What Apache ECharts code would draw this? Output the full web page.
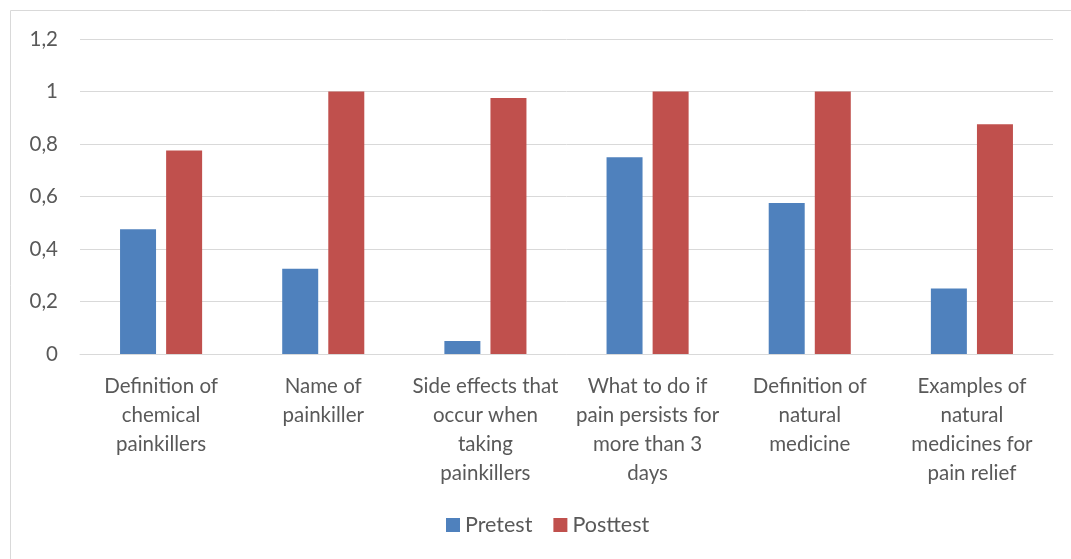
<!DOCTYPE html>
<html>
<head>
<meta charset="utf-8">
<script src="https://cdn.jsdelivr.net/npm/echarts@6/dist/echarts.min.js"></script>
<style>
html,body{margin:0;padding:0;background:#fff;}
#chart{width:1071px;height:559px;}
</style>
</head>
<body>
<div id="chart"></div>
<script>
const categories = [
  "Definition of\nchemical\npainkillers",
  "Name of\npainkiller",
  "Side effects that\noccur when\ntaking\npainkillers",
  "What to do if\npain persists for\nmore than 3\ndays",
  "Definition of\nnatural\nmedicine",
  "Examples of\nnatural\nmedicines for\npain relief"
];
const pretest = [0.475, 0.325, 0.05, 0.75, 0.575, 0.25];
const posttest = [0.775, 1, 0.975, 1, 1, 0.875];
const seriesNames = ["Pretest", "Posttest"];

const font = "Lato, 'Liberation Sans', sans-serif";
const chart = echarts.init(document.getElementById('chart'), null, {renderer: 'canvas'});
chart.setOption({
  animation: false,
  textStyle: {fontFamily: font},
  graphic: [{
    type: 'rect', z: -1,
    shape: {x: 10.5, y: 10.5, width: 1100, height: 600},
    style: {fill: 'none', stroke: '#d9d9d9', lineWidth: 1}
  }],
  grid: {left: 80, right: 18, top: 39, bottom: 205},
  legend: {
    bottom: 18, left: 441,
    itemWidth: 14, itemHeight: 14, itemGap: 21,
    icon: 'rect',
    textStyle: {fontSize: 21.5, color: '#595959', fontFamily: font},
    data: seriesNames
  },
  xAxis: {
    type: 'category',
    data: categories,
    axisLine: {lineStyle: {color: '#d9d9d9', width: 1}},
    axisTick: {show: false},
    axisLabel: {interval: 0, color: '#595959', fontSize: 20.5, lineHeight: 29, margin: 18, fontFamily: font}
  },
  yAxis: {
    type: 'value', min: 0, max: 1.2, interval: 0.2,
    axisLine: {show: false}, axisTick: {show: false},
    splitLine: {lineStyle: {color: '#d9d9d9', width: 1}},
    axisLabel: {
      color: '#595959', fontSize: 20.5, margin: 22, fontFamily: font,
      formatter: v => String(Math.round(v * 10) / 10).replace('.', ',')
    }
  },
  series: [
    {name: seriesNames[0], type: 'bar', data: pretest, barWidth: 36, barGap: '28%', itemStyle: {color: '#4F81BD'}},
    {name: seriesNames[1], type: 'bar', data: posttest, barWidth: 36, barGap: '28%', itemStyle: {color: '#C0504D'}}
  ]
});
</script>
</body>
</html>
